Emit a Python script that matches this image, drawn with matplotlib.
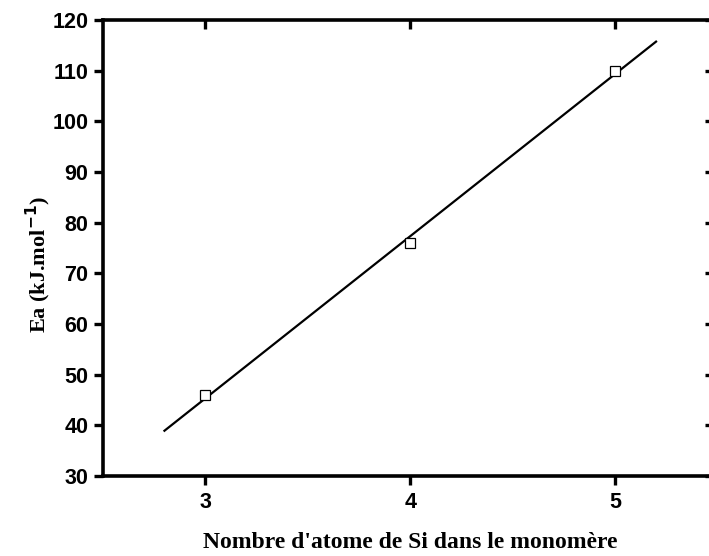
import numpy as np
import matplotlib
matplotlib.use("Agg")
import matplotlib.pyplot as plt

n_si = [3, 4, 5]
ea = [46, 76, 110]
fit_x = [2.8, 5.2]
xticks = [3, 4, 5]
yticks = [30, 40, 50, 60, 70, 80, 90, 100, 110, 120]

fig = plt.figure(figsize=(7.09, 5.56), dpi=100)
ax = fig.add_axes([103/709, 80/556, (717.5-103)/709, 456/556])

slope, intercept = np.polyfit(n_si, ea, 1)
fx = np.array(fit_x)
ax.plot(fx, slope*fx + intercept, color='black', lw=1.6)
ax.plot(n_si, ea, linestyle='none', marker='s', mfc='white', mec='black',
        ms=7, mew=0.9)

ax.set_xlim(2.5, 5.5)
ax.set_ylim(30, 120)
ax.set_xticks(xticks)
ax.set_yticks(yticks)
for s in ax.spines.values():
    s.set_linewidth(2.6)
ax.tick_params(axis='both', which='major', direction='out', length=6.5, width=2.4,
               labelsize=15.5)
ax.tick_params(axis='x', pad=5)
ax.tick_params(axis='y', pad=4)
ax.xaxis.set_ticks_position('both')
ax.yaxis.set_ticks_position('both')
for t in ax.get_xticklabels() + ax.get_yticklabels():
    t.set_fontfamily('Liberation Sans')
    t.set_fontweight('heavy')
for tick in ax.xaxis.get_major_ticks():
    tick.tick2line.set_marker(3)
    tick.tick2line.set_markersize(6.5)
for tick in ax.yaxis.get_major_ticks():
    tick.tick2line.set_marker(0)
    tick.tick2line.set_markersize(9)

ax.set_xlabel("Nombre d'atome de Si dans le monomère", fontfamily='Liberation Serif',
              fontweight='bold', fontsize=17)
ax.xaxis.set_label_coords((410 - 103) / (717.5 - 103), -(542 - 476) / 456)
ax.set_ylabel("Ea (kJ.mol$^{\\mathbf{-1}}$)", fontfamily='Liberation Serif',
              fontweight='bold', fontsize=16)
ax.yaxis.set_label_coords(-(103 - 38) / (717.5 - 103), (476 - 264) / 456)
ax.yaxis.label.set_verticalalignment('center')
ax.xaxis.label.set_verticalalignment('center')

fig.savefig('out.png', dpi=100)
